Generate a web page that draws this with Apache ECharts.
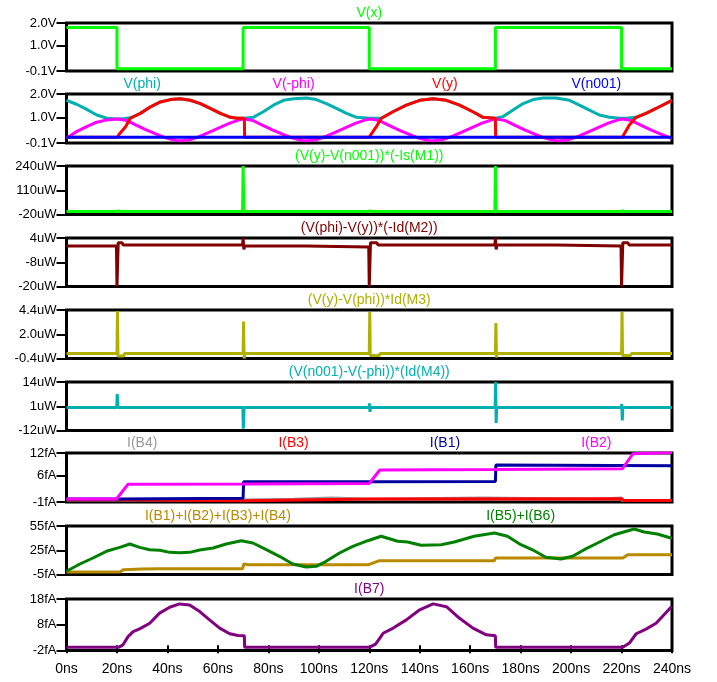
<!DOCTYPE html>
<html><head><meta charset="utf-8">
<script src="https://cdn.jsdelivr.net/npm/echarts@6/dist/echarts.min.js"></script>
<style>html,body{margin:0;padding:0;background:#fff}#c{width:717px;height:682px}</style>
</head><body><div id="c"></div>
<script>
// ---- time axis ----
const timeTicks = [0,20,40,60,80,100,120,140,160,180,200,220,240];
const timeUnit = 'ns';

// ---- y tick values / labels per panel ----
const yTicks1 = [-0.1, 1.0, 2.0];   const yLabels1 = ['-0.1V','1.0V','2.0V'];
const yTicks2 = [-0.1, 1.0, 2.0];   const yLabels2 = ['-0.1V','1.0V','2.0V'];
const yTicks3 = [-20, 110, 240];    const yLabels3 = ['-20uW','110uW','240uW'];
const yTicks4 = [-20, -8, 4];       const yLabels4 = ['-20uW','-8uW','4uW'];
const yTicks5 = [-0.4, 2.0, 4.4];   const yLabels5 = ['-0.4uW','2.0uW','4.4uW'];
const yTicks6 = [-12, 1, 14];       const yLabels6 = ['-12uW','1uW','14uW'];
const yTicks7 = [-1, 6, 12];        const yLabels7 = ['-1fA','6fA','12fA'];
const yTicks8 = [-5, 25, 55];       const yLabels8 = ['-5fA','25fA','55fA'];
const yTicks9 = [-2, 8, 18];        const yLabels9 = ['-2fA','8fA','18fA'];

// ---- series data [time ns, value] ----
const vx = [[0,1.8],[20,1.8],[20,0],[70,0],[70,1.8],[120,1.8],[120,0],[170,0],[170,1.8],[220,1.8],[220,0],[240,0]];

const vphi = [[0,1.73],[4,1.56],[8,1.34],[12,1.10],[16,0.96],[20,0.93],[23,0.95],[25.3,0.98],[29.3,1.17],[33.3,1.45],[37.2,1.66],[41.2,1.76],[45,1.80],[49,1.73],[53,1.59],[57,1.38],[61,1.17],[65,1.0],[67.6,0.96],[70.6,0.96],
 [74,1.0],[78,1.24],[82,1.52],[86,1.73],[90,1.80],[95,1.83],[99,1.76],[103,1.59],[107,1.38],[111,1.17],[115,1.0],[120,0.96],
 [125,0.97],[129.4,1.24],[134.7,1.52],[140,1.73],[145.3,1.80],[150.6,1.73],[155.8,1.52],[161.1,1.24],[165.1,1.0],[170,0.96],
 [173,1.03],[177,1.31],[181,1.59],[185,1.76],[189,1.83],[194,1.83],[199.4,1.73],[203.3,1.52],[207.3,1.31],[211.2,1.10],[215.2,1.0],[219.2,0.96],[222,0.96],[225.8,1.0],[229.7,1.17],[233.7,1.38],[240,1.73]];

const vnphi = [[0,0.1],[4,0.39],[8,0.6],[12,0.79],[16,0.89],[20,0.93],[24,0.86],[27.6,0.67],[31.6,0.46],[35.6,0.28],[39.6,0.11],[43.5,0.01],[45.5,0.0],[48.8,0.04],[52.8,0.18],[56.7,0.37],[60.7,0.56],[64.7,0.75],[68.6,0.89],[70.6,0.93],
 [74,0.86],[77.6,0.67],[81.6,0.46],[85.6,0.28],[89.6,0.11],[93.5,0.01],[95.5,0.0],[98.8,0.04],[102.8,0.18],[106.7,0.37],[110.7,0.56],[114.7,0.75],[118.6,0.89],[120.6,0.93],
 [124,0.86],[127.6,0.67],[131.6,0.46],[135.6,0.28],[139.6,0.11],[143.5,0.01],[145.5,0.0],[148.8,0.04],[152.8,0.18],[156.7,0.37],[160.7,0.56],[164.7,0.75],[168.6,0.89],[170.6,0.93],
 [174,0.86],[177.6,0.67],[181.6,0.46],[185.6,0.28],[189.6,0.11],[193.5,0.01],[195.5,0.0],[198.8,0.04],[202.8,0.18],[206.7,0.37],[210.7,0.56],[214.7,0.75],[218.6,0.89],[220.6,0.93],
 [224,0.86],[227.6,0.67],[231.6,0.46],[235.6,0.28],[239.6,0.11],[240,0.1]];

const vy = [[0,0.15],[20.3,0.15],[20.7,0.25],[23.4,0.6],[25.3,0.96],[29.3,1.17],[33.3,1.45],[37.2,1.66],[41.2,1.76],[45.1,1.80],[49.1,1.73],[53.1,1.59],[57,1.38],[61,1.17],[65,1.0],[67.6,0.96],[70.5,0.96],[70.6,0.15],
 [120,0.15],[120.2,0.2],[122.8,0.6],[124.8,0.96],[129.4,1.24],[134.7,1.52],[140,1.73],[145.3,1.80],[150.6,1.73],[155.8,1.52],[161.1,1.24],[165.1,1.0],[170,0.96],[170.1,0.15],
 [220.3,0.15],[220.5,0.18],[223.1,0.67],[225.8,1.0],[229.7,1.17],[233.7,1.38],[240,1.73]];

const vn001 = [[0,0.15],[60,0.15],[120,0.15],[180,0.15],[240,0.15]];

const pM1 = [[0,-4],[19.5,-4],[20.5,-1.5],[21.5,-4],[69.8,-4],[70,240],[70.3,-4],[119.5,-4],[120.5,-1.5],[121.5,-4],[169.8,-4],[170,240],[170.3,-4],[219.5,-4],[220.5,-1.5],[221.5,-4],[240,-4]];

const pM2 = [[0,0],[19.8,0],[20,-20],[20.3,-20],[20.5,1.7],[22,1.7],[22.5,0.5],[69.8,0.5],[70,4],[70.3,-1.7],[70.6,0],[95,0],[95.5,-0.5],[119.8,-0.5],[120,-20],[120.3,-20],[120.5,1.7],[123,1.7],[123.5,0.5],[169.8,0.5],[170,4],[170.3,-1.7],[170.6,0.5],[194,0.5],[194.5,0],[219.8,0],[220,-20],[220.3,-20],[220.5,1.7],[222.5,1.7],[223,0.5],[240,0.5]];

const pM3 = [[0,0.1],[20,0.1],[20.2,4.3],[20.4,-0.15],[22.7,-0.15],[23,0.1],[70,0.1],[70.2,3.25],[70.4,-0.4],[70.7,0.1],[120,0.1],[120.2,4.2],[120.4,-0.1],[124,-0.1],[124.3,0.1],[170,0.1],[170.2,3.1],[170.4,-0.3],[170.7,0.1],[220,0.1],[220.2,4.2],[220.4,-0.1],[223.5,-0.1],[224,0.1],[240,0.1]];

const pM4 = [[0,0.3],[19.9,0.3],[20.1,7.5],[20.4,0.3],[69.9,0.3],[70.1,-11],[70.4,0.3],[119.9,0.3],[120.1,2.5],[120.3,-2],[120.5,0.3],[169.9,0.3],[170.1,14],[170.3,-8],[170.5,0.3],[219.9,0.3],[220.1,2.2],[220.3,-6.6],[220.5,0.3],[240,0.3]];

const iB4 = [[0,-0.5],[70,-0.5],[70.3,-0.25],[90,-0.25],[90.5,0.05],[105,0.05],[105.5,-0.25],[120,-0.25],[120.3,0.05],[165,0.05],[165.5,-0.25],[210,-0.25],[210.5,0.05],[220,0.05],[220.3,-0.6],[240,-0.6]];
const iB3 = [[0,-0.4],[20,-0.4],[20.3,-0.7],[70,-0.7],[70.2,-0.2],[120,-0.2],[120.2,-0.15],[220,-0.15],[221,-0.6],[240,-0.6]];
const iB1 = [[0,-0.2],[20,-0.2],[20.5,0.0],[70,0.0],[70.2,4.35],[120,4.4],[170,4.45],[170.2,8.8],[240,8.6]];
const iB2 = [[0,-0.2],[19.8,-0.2],[24.4,3.7],[70,3.75],[120,3.9],[124.2,7.5],[170,7.6],[220.3,7.8],[224.5,11.8],[240,12.1]];

const iSum14 = [[0,-1.9],[21.2,-1.9],[22.5,0.9],[30,1.8],[37,2.2],[69.8,2.2],[70.3,8.0],[72,7.2],[119.8,7.2],[124,12.1],[169.6,12.1],[170,15.4],[220.5,15.4],[222.5,19.5],[240,19.3]];
const iB56 = [[0,-1.0],[5.3,8.0],[10.5,15.4],[15.8,23.7],[21.1,28.6],[25.1,32.7],[29,28.6],[33,25.7],[37,24.9],[40.9,22.4],[44.9,22.0],[48.8,22.4],[52.8,25.3],[58.1,27.8],[63.3,32.7],[69.3,36.8],[73.9,34],[79.2,25.7],[84.4,17.5],[89.7,8],[95,4.3],[99,5.1],[102.9,11.3],[108.2,21.6],[113.5,29.9],[119.4,36.8],
 [124.7,42.3],[131.3,36.1],[135.2,35.2],[140.5,31.1],[148.5,31.9],[153.7,35.2],[161.6,42.3],[169.6,46.3],[174.8,42.3],[180.1,31.9],[185.4,24.4],[190,16.3],[196,14.2],[200.6,17.5],[205.2,25.7],[210.5,34],[217.1,44.2],[225,51.3],[229,47.6],[234.2,45.1],[239.5,40.2],[240,40]];

const iB7 = [[0,-0.7],[20.8,-0.7],[22.4,0.2],[24.4,3.4],[26.4,5.35],[29,6.4],[33,8.6],[36.9,12.5],[40.9,14.8],[44.8,16.1],[48.8,15.7],[52.8,13.1],[56.7,9.9],[60.7,6.7],[64.7,4.5],[68,3.8],[70.5,3.7],[70.6,-0.7],
 [120.2,-0.7],[122.5,0.5],[124.2,2.8],[125.5,4.7],[129.5,6.7],[134.7,9.9],[140,13.8],[145.3,16.1],[150.6,15],[155.8,10.5],[161.1,6.7],[166.4,4.1],[170,3.7],[170.1,-0.7],
 [220.5,-0.7],[223.1,0.9],[225.8,4.5],[229.7,6.3],[233.7,8.6],[239.6,14.8],[240,15]];

// ---- panels ----
const FONT = '"Liberation Sans", Arial, Helvetica, sans-serif';
const panels = [
  {ticks:yTicks1, labels:yLabels1, series:[{name:'V(x)', color:'#00ff00', data:vx}]},
  {ticks:yTicks2, labels:yLabels2, series:[{name:'V(phi)', color:'#00b0b0', data:vphi},{name:'V(-phi)', color:'#ff00ff', data:vnphi},{name:'V(y)', color:'#ff0000', data:vy},{name:'V(n001)', color:'#0000ff', data:vn001}]},
  {ticks:yTicks3, labels:yLabels3, series:[{name:'(V(y)-V(n001))*(-Is(M1))', color:'#00ff00', data:pM1}]},
  {ticks:yTicks4, labels:yLabels4, series:[{name:'(V(phi)-V(y))*(-Id(M2))', color:'#800000', data:pM2}]},
  {ticks:yTicks5, labels:yLabels5, series:[{name:'(V(y)-V(phi))*Id(M3)', color:'#b0b000', data:pM3}]},
  {ticks:yTicks6, labels:yLabels6, series:[{name:'(V(n001)-V(-phi))*(Id(M4))', color:'#00b0b0', data:pM4}]},
  {ticks:yTicks7, labels:yLabels7, series:[{name:'I(B4)', color:'#999999', data:iB4},{name:'I(B3)', color:'#ff0000', data:iB3},{name:'I(B1)', color:'#0000a0', data:iB1},{name:'I(B2)', color:'#ff00ff', data:iB2}]},
  {ticks:yTicks8, labels:yLabels8, series:[{name:'I(B1)+I(B2)+I(B3)+I(B4)', color:'#b88a00', data:iSum14},{name:'I(B5)+I(B6)', color:'#008000', data:iB56}]},
  {ticks:yTicks9, labels:yLabels9, series:[{name:'I(B7)', color:'#800080', data:iB7}]}
];
const tops = [23, 94, 166, 238, 310, 382, 453, 526, 599];
const heights = [48, 49, 48.5, 48.5, 48.5, 48.5, 49, 48.5, 51.5];
const LEFT = 66.5, RIGHT = 45, W = 717 - LEFT - RIGHT;

const grid = [], xAxis = [], yAxis = [], series = [], graphic = [];
panels.forEach((p, i) => {
  const last = i === panels.length - 1;
  grid.push({left: LEFT, right: RIGHT, top: tops[i], height: heights[i], show: true, borderColor: '#000', borderWidth: 3, backgroundColor: 'transparent', containLabel: false, outerBoundsMode: 'none'});
  xAxis.push({type: 'value', gridIndex: i, min: 0, max: 240, interval: 20, show: last,
    axisLine: {show: false}, splitLine: {show: false},
    axisTick: {show: last, length: 8, lineStyle: {color: '#000', width: 2}},
    axisLabel: {show: last, margin: 12, fontSize: 14, color: '#000', fontFamily: FONT, formatter: v => v + timeUnit}});
  const lo = p.ticks[0], hi = p.ticks[p.ticks.length - 1];
  yAxis.push({type: 'value', gridIndex: i, min: lo, max: hi, splitLine: {show: false}, axisLine: {show: false},
    axisTick: {show: true, length: 10, lineStyle: {color: '#000', width: 2}, customValues: p.ticks},
    axisLabel: {show: true, margin: 10, fontSize: 13, color: '#000', fontFamily: FONT, customValues: p.ticks,
      formatter: v => { let k = 0, d = Infinity; p.ticks.forEach((t, j) => { if (Math.abs(t - v) < d) { d = Math.abs(t - v); k = j; } }); return p.labels[k]; }}});
  const n = p.series.length;
  p.series.forEach((s, j) => {
    series.push({type: 'line', name: s.name, xAxisIndex: i, yAxisIndex: i, data: s.data, showSymbol: false, symbol: 'none',
      lineStyle: {color: s.color, width: 3}, itemStyle: {color: s.color}, emphasis: {disabled: true}, silent: true, animation: false});
    graphic.push({type: 'text', x: LEFT + (j + 0.5) * W / n, y: tops[i] - 10, silent: true,
      style: {text: s.name, fill: s.color, font: '14px ' + FONT, textAlign: 'center', textVerticalAlign: 'middle'}});
  });
});

const chart = echarts.init(document.getElementById('c'), null, {renderer: 'canvas'});
chart.setOption({animation: false, backgroundColor: '#fff', grid, xAxis, yAxis, series, graphic, tooltip: {show: false}});
</script></body></html>
